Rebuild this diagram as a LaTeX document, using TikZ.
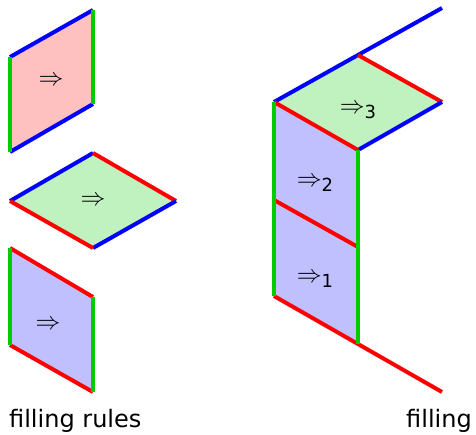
\documentclass[tikz,border=0pt]{standalone}
\usepackage{fontspec}
\setmainfont{DejaVu Sans}
\definecolor{eblue}{RGB}{0,0,255}
\definecolor{ered}{RGB}{255,0,0}
\definecolor{egreen}{RGB}{0,204,0}
\definecolor{fpink}{RGB}{255,192,192}
\definecolor{fgreen}{RGB}{192,242,192}
\definecolor{fblue}{RGB}{192,192,255}
\begin{document}
\begin{tikzpicture}[x=1pt,y=-1pt,
  edge/.style={line width=4pt},
  bl/.style={edge,draw=eblue},
  rd/.style={edge,draw=ered},
  gr/.style={edge,draw=egreen},
  lab/.style={font=\fontsize{29}{30}\selectfont, inner sep=0pt},
  captext/.style={font=\fontsize{24}{28}\selectfont, inner sep=0pt}]
\useasboundingbox (0,0) rectangle (476,434);
% pink
\coordinate (p1) at (10,57); \coordinate (p2) at (93,10);
\coordinate (p3) at (93,104); \coordinate (p4) at (10,152);
\fill[fpink] (p1)--(p2)--(p3)--(p4)--cycle;
\draw[bl] (p1)--(p2); \draw[bl] (p4)--(p3);
\draw[gr] (p1)--(p4); \draw[gr] (p2)--(p3);
\node[lab] (r1) at (51,81) {$\Rightarrow$};
% green rhombus
\coordinate (g1) at (10,201); \coordinate (g2) at (93,153);
\coordinate (g3) at (176,201); \coordinate (g4) at (93,248);
\fill[fgreen] (g1)--(g2)--(g3)--(g4)--cycle;
\draw[bl] (g1)--(g2); \draw[rd] (g2)--(g3);
\draw[bl] (g3)--(g4); \draw[rd] (g4)--(g1);
\node[lab] (r2) at (93,201) {$\Rightarrow$};
% blue
\coordinate (b1) at (10,248); \coordinate (b2) at (93,297);
\coordinate (b3) at (93,392); \coordinate (b4) at (10,345);
\fill[fblue] (b1)--(b2)--(b3)--(b4)--cycle;
\draw[rd] (b1)--(b2); \draw[rd] (b4)--(b3);
\draw[gr] (b1)--(b4); \draw[gr] (b2)--(b3);
\node[lab] (r3) at (48,325) {$\Rightarrow$};
% filling
\coordinate (A) at (274,102); \coordinate (T) at (358,55);
\coordinate (R) at (442,102); \coordinate (B) at (358,150);
\coordinate (E1) at (442,8);
\coordinate (M1) at (274,200); \coordinate (M2) at (358,247);
\coordinate (L1) at (274,296); \coordinate (L2) at (358,344);
\coordinate (E2) at (442,392);
\fill[fgreen] (A)--(T)--(R)--(B)--cycle;
\fill[fblue] (A)--(B)--(L2)--(L1)--cycle;
\draw[bl] (A)--(E1);
\draw[rd] (T)--(R);
\draw[bl] (R)--(B);
\draw[rd] (A)--(B);
\draw[rd] (M1)--(M2);
\draw[rd] (L1)--(E2);
\draw[gr] (A)--(L1);
\draw[gr] (B)--(L2);
\node[lab] (s3) at (358,112) {$\Rightarrow$\raisebox{-5pt}{\fontsize{18}{20}\selectfont 3}};
\node[lab] (s2) at (315,184) {$\Rightarrow$\raisebox{-5pt}{\fontsize{18}{20}\selectfont 2}};
\node[lab] (s1) at (315,280) {$\Rightarrow$\raisebox{-5pt}{\fontsize{18}{20}\selectfont 1}};
\node[captext,anchor=base west] (c1) at (9,427) {filling rules};
\node[captext,anchor=base east] (c2) at (472,427) {filling};
\end{tikzpicture}
\end{document}
